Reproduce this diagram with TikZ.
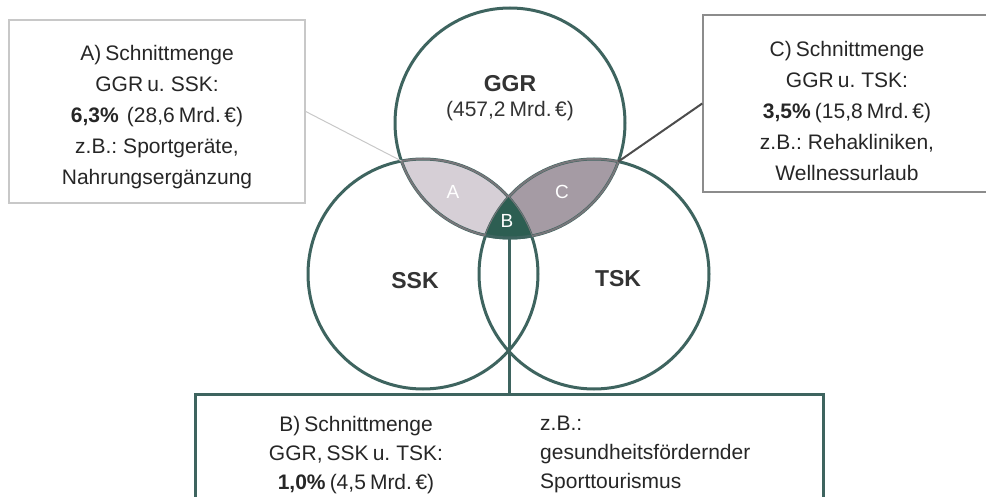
\documentclass[tikz,border=0pt]{standalone}
\usepackage{fontspec}
\setmainfont{Liberation Sans}[WordSpace=0.7]
\usetikzlibrary{positioning,calc}
\definecolor{kreisrand}{RGB}{62,100,95}
\definecolor{mengeA}{RGB}{214,207,214}
\definecolor{mengeB}{RGB}{45,94,82}
\definecolor{mengeC}{RGB}{165,155,164}
\definecolor{linsenrand}{RGB}{120,118,122}
\definecolor{rahmenA}{RGB}{200,200,200}
\definecolor{rahmenC}{RGB}{140,140,140}

\begin{document}
\begin{tikzpicture}[x=1pt,y=-1pt,
kreis/.style={
  draw=kreisrand,
  line width=3pt},
kasten/.style={
  draw,
  rectangle,
  inner sep=0pt},
kastentext/.style={
  align=center,
  inner sep=0pt,
  text=black!85,
  font=\fontsize{21}{31}\selectfont},
mengenname/.style={
  font=\fontsize{23}{24}\selectfont\bfseries,
  text=black!80},
buchstabe/.style={
  font=\fontsize{19}{20}\selectfont,
  text=white}
]
\useasboundingbox (0,0) rectangle (986,497);
\coordinate (GGR) at (510,123);
\coordinate (SSK) at (423,274);
\coordinate (TSK) at (594,274);
\coordinate (ia) at (401.5,161);
\coordinate (ic) at (618.3,161.6);
\coordinate (ib) at (509,238);
% Schnittmengen A und C
\begin{scope}
  \clip (GGR) circle [radius=115pt];
  \fill[mengeA] (SSK) circle [radius=115pt];
  \fill[mengeC] (TSK) circle [radius=115pt];
\end{scope}
\foreach \Kreis in {GGR,SSK,TSK}
  \draw[kreis] (\Kreis) circle [radius=115pt];
\begin{scope}
  \clip (GGR) circle [radius=115pt];
  \draw[linsenrand, line width=2pt] (SSK) circle [radius=115pt];
  \draw[linsenrand, line width=2pt] (TSK) circle [radius=115pt];
\end{scope}
\foreach \Kreis in {SSK,TSK}{
  \begin{scope}
    \clip (\Kreis) circle [radius=115pt];
    \draw[linsenrand, line width=2pt] (GGR) circle [radius=115pt];
  \end{scope}
}
% Schnittmenge B
\begin{scope}
  \clip (GGR) circle [radius=115pt];
  \clip (SSK) circle [radius=115pt];
  \fill[mengeB] (TSK) circle [radius=115pt];
\end{scope}
\begin{scope}
  \clip (SSK) circle [radius=115pt];
  \clip (TSK) circle [radius=115pt];
  \draw[kreis] (GGR) circle [radius=115pt];
\end{scope}

\node[mengenname] (nGGR) at (510,84) {GGR};
\node[below=2pt of nGGR, font=\fontsize{21}{22}\selectfont, text=black!80] (wGGR) {(457,2 Mrd.\,€)};
\node[mengenname] (nSSK) at (415,281) {SSK};
\node[mengenname] (nTSK) at (618,279) {TSK};
\node[buchstabe] (lA) at (453,192) {A};
\node[buchstabe] (lB) at (507,221) {B};
\node[buchstabe] (lC) at (562,192) {C};

\node[kasten, draw=rahmenA, line width=1.5pt, minimum width=296pt, minimum height=183pt] (kA) at (157,111.5) {};
\node[kastentext] (tA) at ($(kA.center)+(0,5.5)$)
  {A) Schnittmenge\\GGR u. SSK:\\\textbf{6,3\%}\ \ (28,6 Mrd.\,€)\\z.B.: Sportgeräte,\\Nahrungsergänzung};
\node[kasten, draw=rahmenC, line width=1.5pt, minimum width=288pt, minimum height=177pt] (kC) at (847,103.5) {};
\node[kastentext] (tC) at ($(kC.center)+(0,7)$)
  {C) Schnittmenge\\GGR u. TSK:\\\textbf{3,5\%} (15,8 Mrd.\,€)\\z.B.: Rehakliniken,\\Wellnessurlaub};
\node[kasten, draw=kreisrand, line width=3pt, minimum width=628pt, minimum height=150pt, anchor=north] (kB) at (509,393) {};
\node[kastentext, font=\fontsize{21}{29}\selectfont, anchor=north] (tB1) at (356,416)
  {B) Schnittmenge\\GGR, SSK u. TSK:\\\textbf{1,0\%} (4,5 Mrd.\,€)};
\node[kastentext, align=left, font=\fontsize{21}{29}\selectfont, anchor=north west] (tB2) at (540,416)
  {z.B.:\\gesundheitsfördernder\\Sporttourismus};

\draw[rahmenA, line width=1pt] (kA.east) -- (ia);
\draw[black!70, line width=2pt] (kC.west) -- (ic);
\draw[kreisrand, line width=3pt] (ib) -- (kB.north);
\end{tikzpicture}
\end{document}
